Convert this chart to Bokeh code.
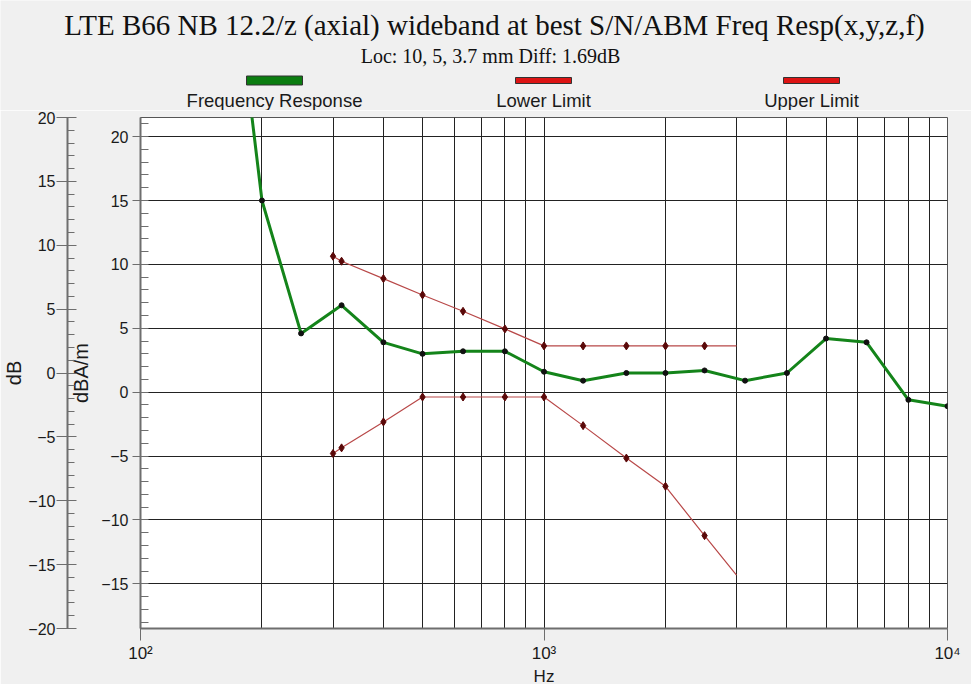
from bokeh.plotting import figure
from bokeh.models import (Range1d, LinearAxis, FixedTicker, SingleIntervalTicker,
                          Label, BoxAnnotation, ColumnDataSource)
from bokeh.embed import file_html
from bokeh.resources import INLINE

# ---- data ----
freq = [160, 200, 250, 315, 400, 500, 630, 800, 1000, 1250, 1600, 2000, 2500,
        3150, 4000, 5000, 6300, 8000, 10000]
response = [40.5, 15.0, 4.6, 6.8, 3.9, 3.0, 3.2, 3.2, 1.6, 0.9, 1.5, 1.5, 1.7,
            0.9, 1.5, 4.2, 3.9, -0.6, -1.1]

limit_freq = [300, 315, 400, 500, 630, 800, 1000, 1250, 1600, 2000, 2500, 3000]
upper_limit = [10.64, 10.25, 8.89, 7.61, 6.33, 4.95, 3.62, 3.62, 3.62, 3.62, 3.62, 3.62]
lower_limit = [-4.80, -4.36, -2.33, -0.38, -0.38, -0.38, -0.38, -2.62, -5.16, -7.37,
               -11.23, -14.33]

x_ticks = [100, 1000, 10000]
x_tick_labels = {100: "10²", 1000: "10³", 10000: "10⁴"}
x_grid = [200, 300, 400, 500, 600, 700, 800, 900, 1000,
          2000, 3000, 4000, 5000, 6000, 7000, 8000, 9000]

title_text = "LTE B66 NB 12.2/z (axial) wideband at best S/N/ABM Freq Resp(x,y,z,f)"
subtitle_text = "Loc: 10, 5, 3.7 mm Diff: 1.69dB"
legend_names = ["Frequency Response", "Lower Limit", "Upper Limit"]
legend_colors = ["#0b7d10", "#dd1414", "#dd1414"]

GREEN = "#14841a"
RED = "#b84848"
SANS = "Liberation Sans"
BG = "#f0f0f0"
AXIS = "#6e6e6e"
TXT = "#1a1a1a"

# ---------------- header (title, subtitle, legend) ----------------
HW, HH = 971, 110
head = figure(width=HW, height=HH, x_range=Range1d(0, HW), y_range=Range1d(HH, 0),
              x_axis_location=None, y_axis_location=None, min_border=0,
              output_backend="svg", toolbar_location=None, title=None,
              background_fill_color=BG, border_fill_color=BG, outline_line_color=None)
head.xgrid.visible = False
head.ygrid.visible = False

head.add_layout(Label(x=494, y=24, text=title_text, text_align="center",
                      text_baseline="alphabetic", text_font="Liberation Serif",
                      text_font_size="29px", text_color="#111111"))
head.add_layout(Label(x=490, y=55.5, text=subtitle_text, text_align="center",
                      text_baseline="alphabetic", text_font="Liberation Serif",
                      text_font_size="20px", text_color="#111111"))

leg_x = [274, 543, 811]
for i, (name, col, cx) in enumerate(zip(legend_names, legend_colors, leg_x)):
    top, bot = (75.5, 84.5) if i == 0 else (77, 83)
    head.add_layout(BoxAnnotation(left=cx - 28, right=cx + 28, top=top, bottom=bot,
                                  fill_color=col, fill_alpha=1.0, line_color="#333333",
                                  line_width=1, line_alpha=1.0))
    head.add_layout(Label(x=cx, y=100, text=name, text_align="center",
                          text_baseline="alphabetic", text_font=SANS,
                          text_font_size="18.5px", text_color=TXT))

# ---------------- main plot ----------------
p = figure(x_axis_type="log", x_range=Range1d(100, 10000), y_range=Range1d(-18.5, 21.5),
           frame_width=807, frame_height=511,
           min_border_left=0, min_border_right=25, min_border_top=7, min_border_bottom=50,
           output_backend="svg", toolbar_location=None, title=None,
           background_fill_color="white", border_fill_color=BG,
           outline_line_color="#555555", outline_line_width=1)

p.extra_y_ranges = {"outer": Range1d(-20, 20)}

p.xgrid.ticker = FixedTicker(ticks=x_grid)
p.xgrid.grid_line_color = "#222222"
p.ygrid.ticker = SingleIntervalTicker(interval=5)
p.ygrid.grid_line_color = "#222222"

xa = p.xaxis[0]
xa.ticker = FixedTicker(ticks=x_ticks)
xa.major_label_overrides = x_tick_labels
xa.major_tick_out = 12
xa.major_tick_in = 0
xa.minor_tick_line_color = None
xa.axis_line_color = AXIS
xa.axis_line_width = 2
xa.major_tick_line_color = AXIS
xa.major_label_text_font = SANS
xa.major_label_text_font_size = "17px"
xa.major_label_text_color = TXT
xa.major_label_standoff = 3
xa.axis_label = "Hz"
xa.axis_label_text_font = SANS
xa.axis_label_text_font_style = "normal"
xa.axis_label_text_font_size = "17px"
xa.axis_label_text_color = TXT
xa.axis_label_standoff = 1

ya = p.yaxis[0]
ya.ticker = SingleIntervalTicker(interval=5, num_minor_ticks=5)
ya.major_tick_out = 8
ya.major_tick_in = 0
ya.minor_tick_in = 8
ya.minor_tick_out = 0
ya.axis_line_color = AXIS
ya.axis_line_width = 2
ya.major_tick_line_color = AXIS
ya.minor_tick_line_color = AXIS
ya.major_label_text_font = SANS
ya.major_label_text_font_size = "16px"
ya.major_label_text_color = TXT
ya.major_label_standoff = 4
ya.axis_label = "dBA/m"
ya.axis_label_text_font = SANS
ya.axis_label_text_font_style = "normal"
ya.axis_label_text_font_size = "20px"
ya.axis_label_text_color = TXT
ya.axis_label_standoff = 6

outer = LinearAxis(y_range_name="outer",
                   ticker=SingleIntervalTicker(interval=5, num_minor_ticks=5))
outer.major_tick_out = 11
outer.major_tick_in = 9
outer.minor_tick_in = 7
outer.minor_tick_out = 0
outer.axis_line_color = AXIS
outer.axis_line_width = 2
outer.major_tick_line_color = AXIS
outer.minor_tick_line_color = AXIS
outer.major_label_text_font = SANS
outer.major_label_text_font_size = "16px"
outer.major_label_text_color = TXT
outer.major_label_standoff = 1
outer.axis_label = "dB"
outer.axis_label_text_font = SANS
outer.axis_label_text_font_style = "normal"
outer.axis_label_text_font_size = "20px"
outer.axis_label_text_color = TXT
outer.axis_label_standoff = 0
p.add_layout(outer, "left")

resp_src = ColumnDataSource(dict(f=freq, v=response))
p.line("f", "v", source=resp_src, line_color=GREEN, line_width=3)
p.scatter("f", "v", source=resp_src, size=5, color="#111111")

lim_src = ColumnDataSource(dict(f=limit_freq, up=upper_limit, lo=lower_limit))
mk_src = ColumnDataSource(dict(f=limit_freq[:-1], up=upper_limit[:-1], lo=lower_limit[:-1]))
p.line("f", "up", source=lim_src, line_color=RED, line_width=1.2)
p.line("f", "lo", source=lim_src, line_color=RED, line_width=1.2)
p.scatter("f", "up", source=mk_src, marker="diamond", size=8, color="#5a0808")
p.scatter("f", "lo", source=mk_src, marker="diamond", size=8, color="#5a0808")

open("out.html", "w").write(file_html([head, p], INLINE))
